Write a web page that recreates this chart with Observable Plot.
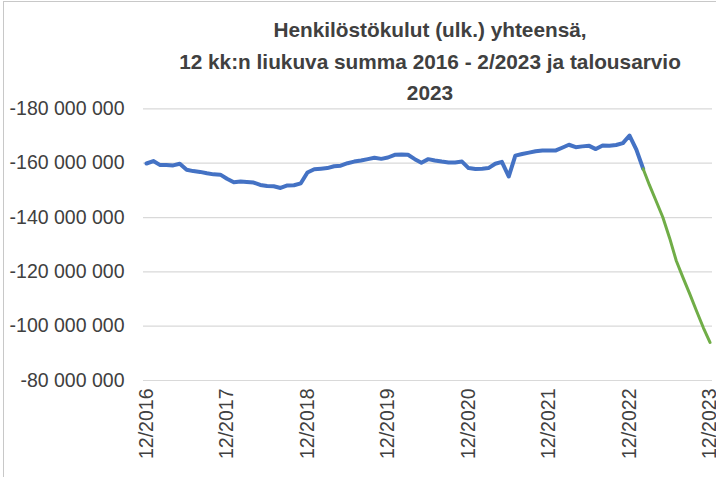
<!DOCTYPE html>
<html>
<head>
<meta charset="utf-8">
<script src="https://cdn.jsdelivr.net/npm/d3@7"></script>
<script src="https://cdn.jsdelivr.net/npm/@observablehq/plot@0.6"></script>
<style>
  body { margin: 0; background: #fff; }
  #wrap { position: relative; width: 716px; height: 477px; overflow: hidden; background: #fff; font-family: "Liberation Sans", Arial, sans-serif; }
  #frame { position: absolute; left: 3px; top: 1px; width: 740px; height: 500px; border-left: 1px solid #c8c8c8; border-top: 1px solid #c8c8c8; }
  #title { position: absolute; left: 130px; width: 600px; top: 14px; text-align: center; font-weight: bold; font-size: 20.8px; line-height: 31.5px; color: #404040; white-space: nowrap; }
  #chart { position: absolute; left: 0; top: 0; }
</style>
</head>
<body>
<div id="wrap">
  <div id="frame"></div>
  <div id="chart"></div>
  <div id="title">Henkilöstökulut (ulk.) yhteensä,<br>12 kk:n liukuva summa 2016 - 2/2023 ja talousarvio<br>2023</div>
</div>
<script>
// Actual 12-month rolling sum, monthly 12/2016 .. 2/2023 (millions of euros)
const actualStart = "2016-12-01";
const actualValues = [
  -159.9,
  -160.8, -159.3, -159.3, -159.2, -159.8, -157.6, -157.1, -156.8, -156.3, -155.9, -155.8, -154.3,
  -153.0, -153.3, -153.1, -152.9, -152.0, -151.6, -151.5, -150.9, -151.8, -151.9, -152.6, -156.6,
  -157.8, -158.0, -158.2, -158.9, -159.1, -160.0, -160.6, -161.0, -161.5, -162.0, -161.6, -162.1,
  -163.1, -163.2, -163.1, -161.5, -160.2, -161.5, -161.0, -160.6, -160.3, -160.3, -160.6, -158.2,
  -157.9, -158.0, -158.2, -159.8, -160.5, -155.1, -162.8, -163.4, -163.9, -164.4, -164.7, -164.7,
  -164.7, -165.8, -166.8, -165.9, -166.2, -166.4, -165.2, -166.5, -166.4, -166.7, -167.4, -170.2,
  -165.0, -157.9
];
// Budget 2023, monthly 2/2023 .. 12/2023 (millions of euros)
const budgetStart = "2023-02-01";
const budgetValues = [-157.9, -152.0, -146.0, -140.1, -132.4, -124.1, -117.8, -111.7, -105.6, -99.4, -94.0];

const yTicks = [-180e6, -160e6, -140e6, -120e6, -100e6, -80e6];
const xTickLabels = ["12/2016", "12/2017", "12/2018", "12/2019", "12/2020", "12/2021", "12/2022", "12/2023"];

const monthAt = (start, i) => d3.utcMonth.offset(new Date(start), i);
const actual = actualValues.map((v, i) => ({date: monthAt(actualStart, i), value: v * 1e6}));
const budget = budgetValues.map((v, i) => ({date: monthAt(budgetStart, i), value: v * 1e6}));
const xTicks = xTickLabels.map(s => { const [m, y] = s.split("/"); return new Date(Date.UTC(+y, +m - 1, 1)); });

const fmt = d3.formatLocale({thousands: " ", grouping: [3], decimal: ",", minus: "-", currency: ["", ""]}).format(",");

const chart = Plot.plot({
  width: 716,
  height: 477,
  marginLeft: 143,
  marginRight: 4,
  marginTop: 108.4,
  marginBottom: 97,
  style: {fontFamily: "'Liberation Sans', Arial, sans-serif", background: "transparent", color: "#404040"},
  x: {type: "utc", domain: [xTicks[0], xTicks[xTicks.length - 1]], insetLeft: 3, insetRight: 2.5},
  y: {domain: [-180e6, -80e6], reverse: true},
  marks: [
    Plot.gridY(yTicks, {stroke: "#d9d9d9", strokeOpacity: 1, strokeWidth: 1.2}),
    Plot.axisY(yTicks, {tickSize: 0, tickPadding: 19, tickFormat: fmt, fontSize: 19.5, fill: "#404040", label: null}),
    Plot.axisX(xTicks, {tickSize: 0, tickPadding: 8, tickRotate: -90, tickFormat: d3.utcFormat("%m/%Y"), fontSize: 19.5, fill: "#404040", label: null}),
    Plot.line(actual, {x: "date", y: "value", stroke: "#4472C4", strokeWidth: 4, strokeLinejoin: "round", strokeLinecap: "round"}),
    Plot.line(budget, {x: "date", y: "value", stroke: "#70AD47", strokeWidth: 3, strokeLinejoin: "round", strokeLinecap: "round"})
  ]
});
document.getElementById("chart").appendChild(chart);
</script>
</body>
</html>
